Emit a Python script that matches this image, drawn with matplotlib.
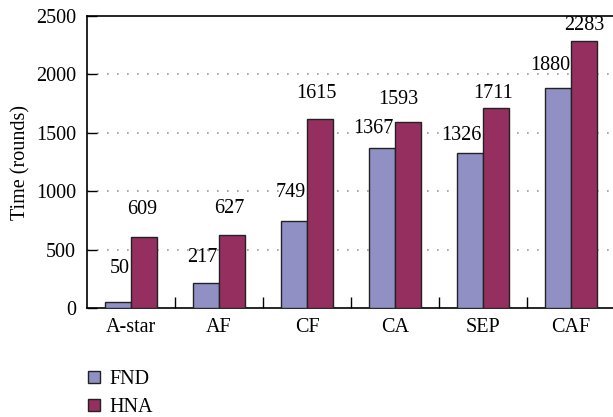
import matplotlib
matplotlib.use("Agg")
import matplotlib.pyplot as plt
import numpy as np

categories = ["A-star", "AF", "CF", "CA", "SEP", "CAF"]
fnd = [50, 217, 749, 1367, 1326, 1880]
hna = [609, 627, 1615, 1593, 1711, 2283]

# label offsets above bar tops (pixels)
fnd_dy = [34, 25, 28, 20, 18, 23]
hna_dy = [27, 26, 26, 22, 15, 16]
hna_dx = [-2, -2, -3, -9, -3, 0]

FND_COLOR = "#9090c4"
HNA_COLOR = "#952f5f"

plt.rcParams["font.family"] = ["Liberation Serif", "DejaVu Serif"]
plt.rcParams["font.size"] = 14.5

W, H = 613, 417
fig = plt.figure(figsize=(W / 100, H / 100), dpi=100)
ax = fig.add_axes([87 / W, (H - 308) / H, 528 / W, 292 / H])

x = np.arange(len(categories))
width = 0.29
ax.bar(x - width / 2, fnd, width, color=FND_COLOR, edgecolor="#222222", linewidth=1.0, label="FND", zorder=3)
ax.bar(x + width / 2, hna, width, color=HNA_COLOR, edgecolor="#222222", linewidth=1.0, label="HNA", zorder=3)

ax.set_xlim(-0.5, len(categories) - 0.5)
ax.set_ylim(0, 2500)
ax.set_yticks([0, 500, 1000, 1500, 2000, 2500])
ax.set_xticks(x)
ax.set_xticklabels(categories)
ax.set_xticks(np.arange(0.5, len(categories) - 0.5, 1), minor=True)
ax.tick_params(axis="x", which="major", length=0, pad=7)
ax.tick_params(axis="x", which="minor", direction="in", length=8, width=1)
ax.tick_params(axis="y", direction="in", length=7, width=1, pad=8)
for v in [500, 1000, 1500, 2000]:
    ax.axhline(v, color="#999999", linestyle=(0, (1, 5)), linewidth=1.2, zorder=1)

for s in ["left", "top", "bottom"]:
    ax.spines[s].set_linewidth(1.2)
ax.spines["right"].set_visible(False)

ax.set_ylabel("Time (rounds)", labelpad=4)

for i in range(len(categories)):
    ax.annotate(str(fnd[i]), (x[i], fnd[i]), xytext=(-1, fnd_dy[i]), textcoords="offset pixels",
                ha="right", va="center")
    ax.annotate(str(hna[i]), (x[i] + width / 2, hna[i]), xytext=(hna_dx[i], hna_dy[i]),
                textcoords="offset pixels", ha="center", va="center")

fig.legend(loc="upper left", bbox_to_anchor=(80 / W, (H - 362) / H), frameon=False,
           handlelength=0.6, handleheight=0.6, handletextpad=0.45, labelspacing=0.45,
           borderaxespad=0)

fig.savefig("out.png", dpi=100)
